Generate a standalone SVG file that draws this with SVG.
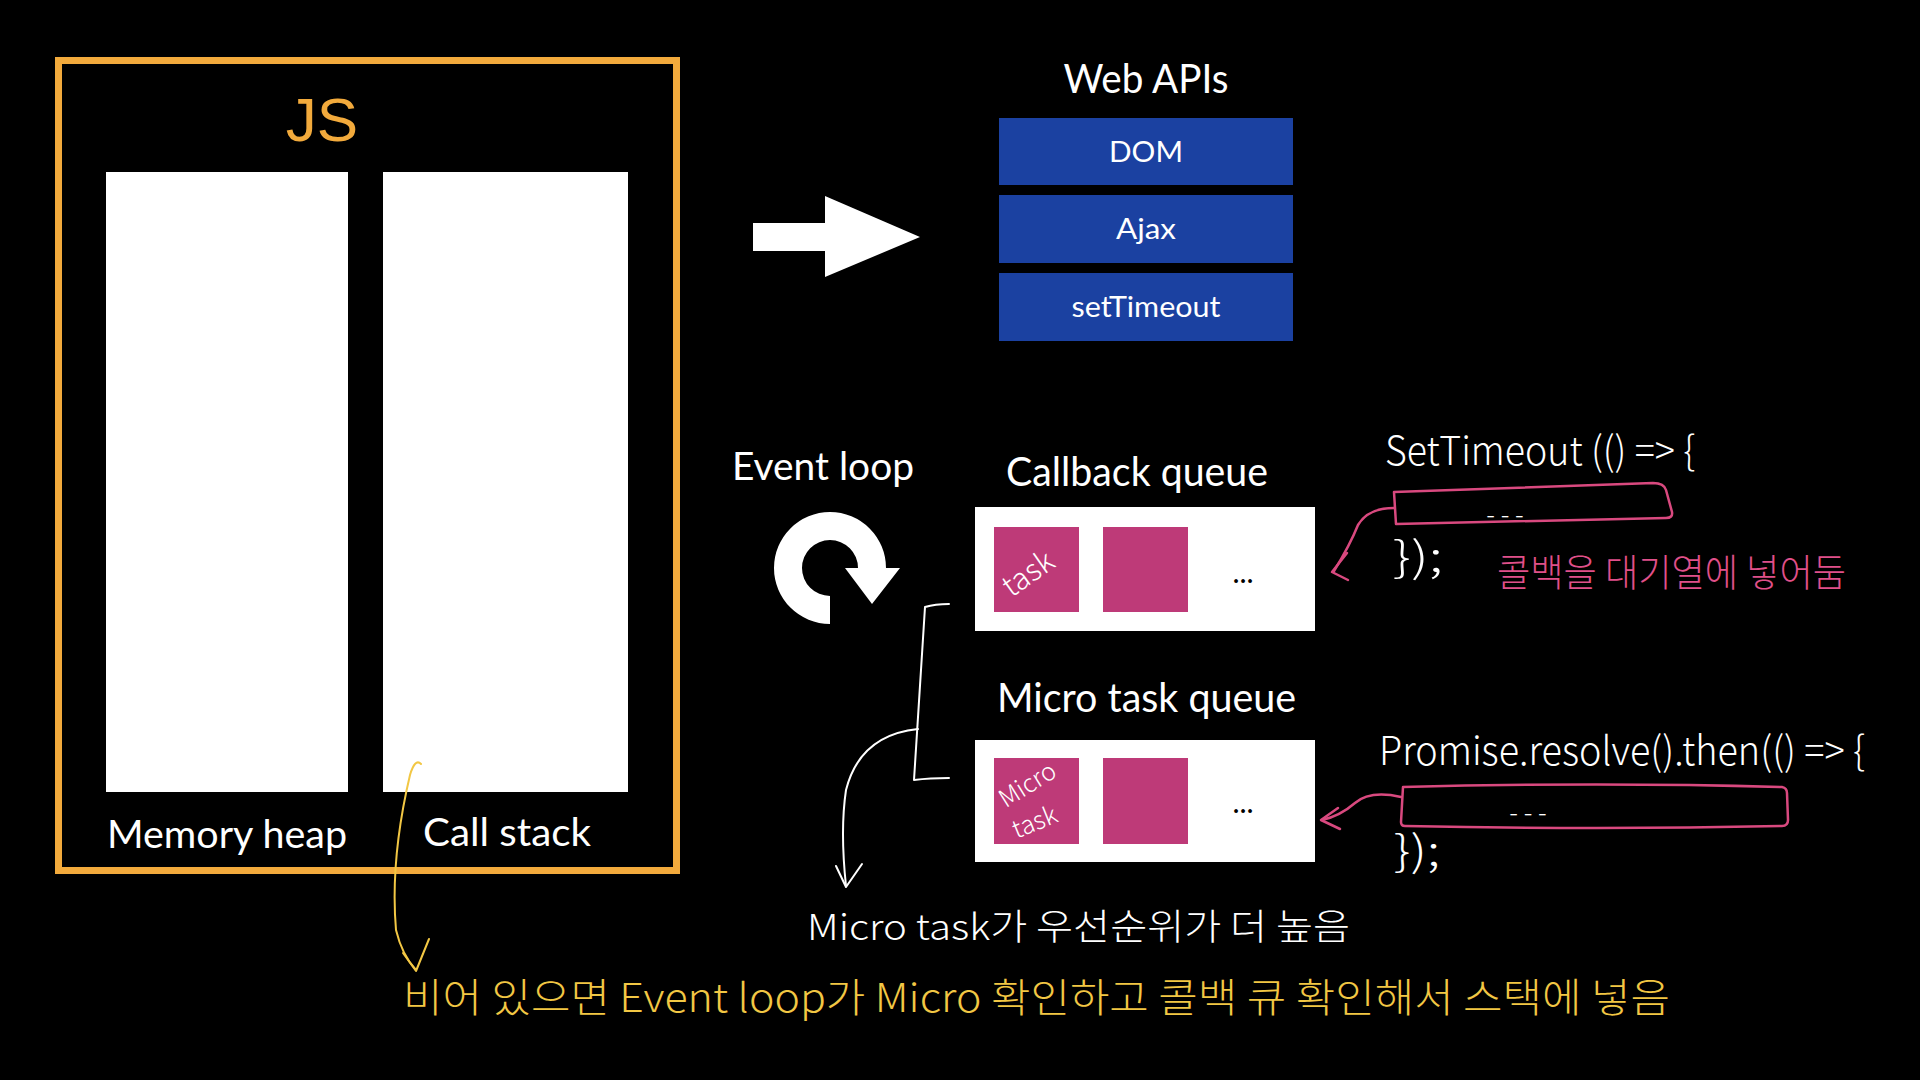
<svg xmlns="http://www.w3.org/2000/svg" width="1920" height="1080" viewBox="0 0 1920 1080">
<defs>
<style>
.lbl{font-family:Lato,"Open Sans","Liberation Sans",sans-serif;fill:#ffffff}
.hand{font-family:"Noto Sans CJK KR","Noto Sans",sans-serif;font-weight:300}
.hw{fill:#ffffff}
.hp{fill:#e0508a}
.hy{fill:#f2c744}
.blue{fill:#1b41a1}
.pinksq{fill:#be3a78}
.wline{fill:none;stroke:#ffffff;stroke-width:2;stroke-linecap:round;stroke-linejoin:round}
.pline{fill:none;stroke:#d9497f;stroke-width:2.5;stroke-linecap:round;stroke-linejoin:round}
.yline{fill:none;stroke:#f2c744;stroke-width:2;stroke-linecap:round;stroke-linejoin:round}
</style>
</defs>
<rect x="0" y="0" width="1920" height="1080" fill="#000000"/>

<g id="js-engine">
<rect x="58.5" y="60.5" width="618" height="810" fill="none" stroke="#f2aa3c" stroke-width="7"/>
<text x="322" y="141" text-anchor="middle" font-family="'Liberation Sans',Arial,sans-serif" font-size="62" fill="#f2aa3c">JS</text>
</g>
<g id="memory-heap">
<rect x="106" y="172" width="242" height="620" fill="#ffffff"/>
<text class="lbl" x="107" y="848" font-size="39" textLength="240" lengthAdjust="spacingAndGlyphs">Memory heap</text>
</g>
<g id="call-stack">
<rect x="383" y="172" width="245" height="620" fill="#ffffff"/>
<text class="lbl" x="423" y="846" font-size="39" textLength="168" lengthAdjust="spacingAndGlyphs">Call stack</text>
</g>

<g id="web-apis">
<text class="lbl" x="1146" y="93" text-anchor="middle" font-size="40" textLength="165" lengthAdjust="spacingAndGlyphs">Web APIs</text>
<g id="dom"><rect class="blue" x="999" y="118" width="294" height="67"/>
<text class="lbl" x="1146" y="162" text-anchor="middle" font-size="29" textLength="74" lengthAdjust="spacingAndGlyphs">DOM</text></g>
<g id="ajax"><rect class="blue" x="999" y="195" width="294" height="68"/>
<text class="lbl" x="1146" y="239" text-anchor="middle" font-size="29" textLength="60" lengthAdjust="spacingAndGlyphs">Ajax</text></g>
<g id="settimeout"><rect class="blue" x="999" y="273" width="294" height="68"/>
<text class="lbl" x="1146" y="317" text-anchor="middle" font-size="29" textLength="149" lengthAdjust="spacingAndGlyphs">setTimeout</text></g>
</g>

<g id="event-loop">
<text class="lbl" x="732" y="480" font-size="39" textLength="182" lengthAdjust="spacingAndGlyphs">Event loop</text>
<path d="M830 624 A56 56 0 1 1 886 568 L900 568 L872 604 L845 568 L858 568 A28 28 0 1 0 830 596 Z" fill="#ffffff"/>
</g>

<g id="callback-queue">
<text class="lbl" x="1006" y="486" font-size="40" textLength="262" lengthAdjust="spacingAndGlyphs">Callback queue</text>
<rect x="975" y="507" width="340" height="124" fill="#ffffff"/>
<rect class="pinksq" x="994" y="527" width="85" height="85"/>
<rect class="pinksq" x="1103" y="527" width="85" height="85"/>
<text class="lbl" x="1243" y="583" text-anchor="middle" font-size="30" fill="#000" style="fill:#000">...</text>
<text class="hand hw" x="0" y="0" font-size="30" text-anchor="middle" transform="translate(1034 582) rotate(-35)">task</text>
</g>

<g id="micro-task-queue">
<text class="lbl" x="997" y="712" font-size="40" textLength="299" lengthAdjust="spacingAndGlyphs">Micro task queue</text>
<rect x="975" y="740" width="340" height="122" fill="#ffffff"/>
<rect class="pinksq" x="994" y="758" width="85" height="86"/>
<rect class="pinksq" x="1103" y="758" width="85" height="86"/>
<text class="lbl" x="1243" y="813" text-anchor="middle" font-size="30" style="fill:#000">...</text>
<text class="hand hw" x="0" y="0" font-size="25" text-anchor="middle" transform="translate(1032 792) rotate(-32)">Micro</text>
<text class="hand hw" x="0" y="0" font-size="25" text-anchor="middle" transform="translate(1038 830) rotate(-22)">task</text>
</g>

<g id="settimeout-code">
<text class="hand hw" x="1385" y="465" font-size="40" textLength="310" lengthAdjust="spacingAndGlyphs">SetTimeout (() =&gt; {</text>
<path class="pline" d="M1394 492 L1653 483 Q1664 483 1666 490 L1672 512 Q1673 518 1666 518 L1396 524 Z"/>
<text class="hand hw" x="1505" y="524" font-size="26" text-anchor="middle">- - -</text>
<text class="hand hw" x="1393" y="572" font-size="42" textLength="50" lengthAdjust="spacingAndGlyphs">});</text>
<text class="hand hp" x="1497" y="586" font-size="38" textLength="349" lengthAdjust="spacingAndGlyphs">콜백을 대기열에 넣어둠</text>
</g>

<g id="promise-code">
<text class="hand hw" x="1379" y="765" font-size="40" textLength="486" lengthAdjust="spacingAndGlyphs">Promise.resolve().then(() =&gt; {</text>
<path class="pline" d="M1403 787 Q1600 782 1782 787 Q1787 788 1787 793 L1788 820 Q1788 826 1782 826 Q1600 830 1405 826 Q1401 826 1401 822 Z"/>
<text class="hand hw" x="1528" y="822" font-size="26" text-anchor="middle">- - -</text>
<text class="hand hw" x="1394" y="866" font-size="42" textLength="46" lengthAdjust="spacingAndGlyphs">});</text>
</g>

<g id="notes">
<text class="hand hw" x="807" y="940" font-size="36" textLength="543" lengthAdjust="spacingAndGlyphs">Micro task가 우선순위가 더 높음</text>
<text class="hand hy" x="403" y="1012" font-size="40" textLength="1267" lengthAdjust="spacingAndGlyphs">비어 있으면  Event loop가  Micro 확인하고 콜백 큐 확인해서 스택에 넣음</text>
</g>

<g id="connectors">
<polygon points="753,223 825,223 825,196 920,237 825,277 825,251 753,251" fill="#ffffff"/>
<path class="pline" d="M1394 508 Q1368 508 1358 525 Q1350 545 1334 571"/>
<path class="pline" d="M1347 553 L1332 572 L1348 580"/>
<path class="pline" d="M1401 797 Q1370 790 1355 803 Q1340 816 1322 820"/>
<path class="pline" d="M1338 808 L1321 820 L1340 829"/>
<path class="wline" d="M949 604 Q935 604 925 607 L914 780 Q930 778 949 778"/>
<path class="wline" d="M918 729 Q860 735 846 790 Q840 830 846 886"/>
<path class="wline" d="M836 866 L846 887 L862 864"/>
<path class="yline" d="M421 764 Q415 758 410 775 Q390 860 396 930 Q402 955 416 970"/>
<path class="yline" d="M403 953 L416 971 L429 939"/>
</g>
</svg>
